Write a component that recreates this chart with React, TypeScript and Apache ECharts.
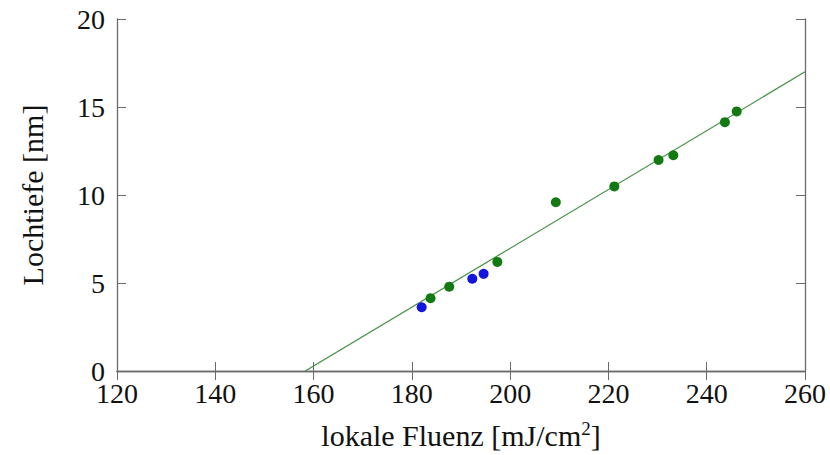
import React, { useEffect, useRef } from "react";
import * as echarts from "echarts";

const blueFluence = [182.0, 192.3, 194.6];
const blueDepth = [3.62, 5.24, 5.52];
const greenFluence = [183.8, 187.6, 197.4, 209.3, 221.2, 230.2, 233.2, 243.7, 246.1];
const greenDepth = [4.14, 4.79, 6.2, 9.59, 10.49, 11.99, 12.26, 14.14, 14.75];
const fitLineX = [158.3, 260];
const fitLineY = [0, 17];

const xMin = 120, xMax = 260, xStep = 20;
const yMin = 0, yMax = 20, yStep = 5;

const FONT = "Liberation Serif";
const FRAME = "#6b6b6b";

export default function App() {
  const ref = useRef<HTMLDivElement>(null);
  useEffect(() => {
    const chart = echarts.init(ref.current!, null, { renderer: "svg" });
    const pair = (xs: number[], ys: number[]) => xs.map((x, i) => [x, ys[i]]);
    const axisCommon = {
      type: "value" as const,
      axisLine: { show: true, lineStyle: { color: FRAME, width: 1.3 } },
      axisTick: { show: true, inside: true, length: 9, lineStyle: { color: FRAME, width: 1 } },
      splitLine: { show: false },
    };
    chart.setOption({
      animation: false,
      backgroundColor: "#ffffff",
      grid: { left: 117, right: 25, top: 19, bottom: 82, containLabel: false },
      xAxis: [
        {
          ...axisCommon,
          position: "bottom",
          min: xMin, max: xMax, interval: xStep,
          axisLabel: { color: "#111", fontFamily: FONT, fontSize: 28, margin: 8 },
          name: "lokale Fluenz [mJ/cm{sup|2}]",
          nameLocation: "middle",
          nameGap: 48,
          nameTextStyle: {
            color: "#111", fontFamily: FONT, fontSize: 30,
            rich: { sup: { fontFamily: FONT, fontSize: 19, verticalAlign: "top", padding: [0, 0, 13, 0], color: "#111" } },
          },
        },
        {
          ...axisCommon,
          position: "top",
          min: xMin, max: xMax, interval: xStep,
          axisLabel: { show: false },
        },
      ],
      yAxis: [
        {
          ...axisCommon,
          position: "left",
          min: yMin, max: yMax, interval: yStep,
          axisLabel: { color: "#111", fontFamily: FONT, fontSize: 28, margin: 12 },
          name: "Lochtiefe [nm]",
          nameLocation: "middle",
          nameGap: 70,
          nameTextStyle: { color: "#111", fontFamily: FONT, fontSize: 30 },
        },
        {
          ...axisCommon,
          position: "right",
          min: yMin, max: yMax, interval: yStep,
          axisLabel: { show: false },
        },
      ],
      series: [
        {
          type: "line",
          data: pair(fitLineX, fitLineY),
          showSymbol: false,
          symbol: "none",
          lineStyle: { color: "#3f8f3f", width: 1.2 },
          z: 1,
        },
        {
          type: "scatter",
          data: pair(greenFluence, greenDepth),
          symbolSize: 10,
          itemStyle: { color: "#137a13", opacity: 1 },
          z: 3,
        },
        {
          type: "scatter",
          data: pair(blueFluence, blueDepth),
          symbolSize: 10,
          itemStyle: { color: "#1414e0", opacity: 1 },
          z: 3,
        },
      ],
    });
    return () => chart.dispose();
  }, []);
  return (
    <div
      ref={ref}
      style={{ position: "fixed", left: 0, top: 0, width: 830, height: 455, background: "#fff" }}
    />
  );
}
